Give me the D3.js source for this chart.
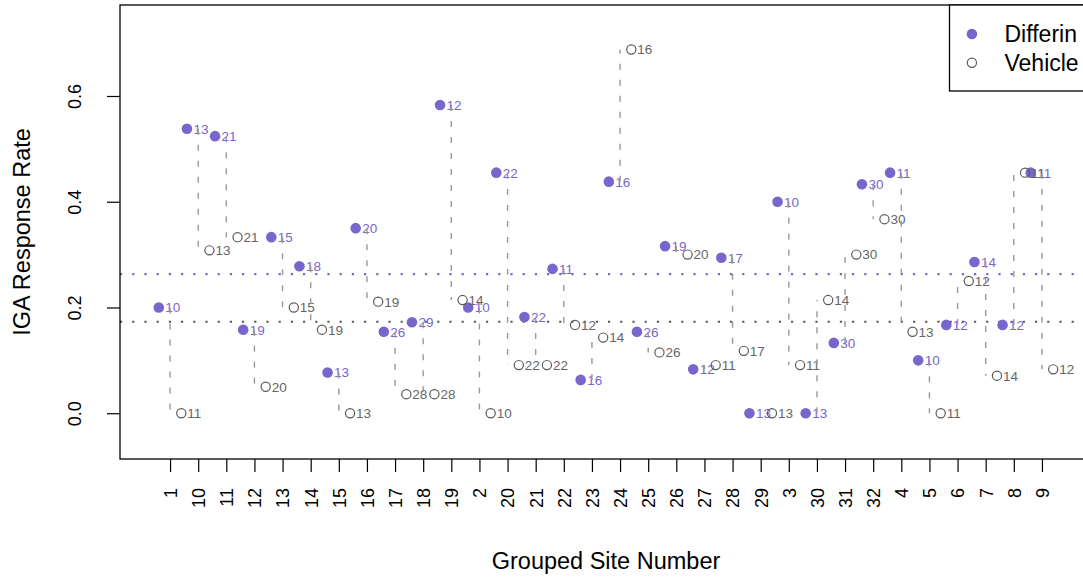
<!DOCTYPE html>
<html>
<head>
<meta charset="utf-8">
<script src="https://cdn.jsdelivr.net/npm/d3@7"></script>
<style>
  html, body { margin: 0; padding: 0; background: #fff; overflow: hidden; }
  text { font-family: "Liberation Sans", Arial, Helvetica, sans-serif; }
</style>
</head>
<body>
<svg id="chart" width="1083" height="577"></svg>
<script>
// Grouped sites, in the order they appear along the x axis
const sites = ["1","10","11","12","13","14","15","16","17","18","19","2","20","21","22","23",
               "24","25","26","27","28","29","3","30","31","32","4","5","6","7","8","9"];

// IGA response rate and number of subjects per site, Differin arm
const differinRate = [0.200, 0.538, 0.524, 0.158, 0.333, 0.278, 0.077, 0.350, 0.154, 0.172, 0.583,
                      0.200, 0.455, 0.182, 0.273, 0.063, 0.438, 0.154, 0.316, 0.083, 0.294, 0.000,
                      0.400, 0.000, 0.133, 0.433, 0.455, 0.100, 0.167, 0.286, 0.167, 0.455];
const differinN = [10, 13, 21, 19, 15, 18, 13, 20, 26, 29, 12, 10, 22, 22, 11, 16,
                   16, 26, 19, 12, 17, 13, 10, 13, 30, 30, 11, 10, 12, 14, 12, 11];

// IGA response rate and number of subjects per site, Vehicle arm
const vehicleRate = [0.000, 0.308, 0.333, 0.050, 0.200, 0.158, 0.000, 0.211, 0.036, 0.036, 0.214,
                     0.000, 0.091, 0.091, 0.167, 0.143, 0.688, 0.115, 0.300, 0.091, 0.118, 0.000,
                     0.091, 0.214, 0.300, 0.367, 0.154, 0.000, 0.250, 0.071, 0.455, 0.083];
const vehicleN = [11, 13, 21, 20, 15, 19, 13, 19, 28, 28, 14, 10, 22, 22, 12, 14,
                  16, 26, 20, 11, 17, 13, 11, 14, 30, 30, 13, 11, 12, 14, 11, 12];

// Overall response rate in each arm
const overallDifferin = 0.263;
const overallVehicle = 0.173;

const yTicks = [0, 0.2, 0.4, 0.6];
const legendLabels = ["Differin", "Vehicle"];

const purple = "#7866CC";
const grey = "#5a5a5a";
const dashGrey = "#999999";

const svg = d3.select("#chart");
const plot = { left: 120, right: 1092, top: 5, bottom: 459 };

// position of each site is 1..n; arms are offset to either side of it
const x = d3.scaleLinear().domain([-0.78, sites.length + 1.78]).range([plot.left, plot.right]);
const y = d3.scaleLinear().domain([-0.0866, 0.7721]).range([plot.bottom, plot.top]);
const armOffset = 0.4;

const rows = sites.map((s, i) => ({
  site: s, pos: i + 1,
  dRate: differinRate[i], dN: differinN[i],
  vRate: vehicleRate[i], vN: vehicleN[i]
}));

svg.append("defs").append("clipPath").attr("id", "plotClip")
  .append("rect").attr("x", plot.left).attr("y", plot.top)
  .attr("width", plot.right - plot.left).attr("height", plot.bottom - plot.top);

const g = svg.append("g").attr("clip-path", "url(#plotClip)");

// overall rate reference lines
g.selectAll("line.ref").data([[overallDifferin, purple], [overallVehicle, grey]]).enter()
  .append("line").attr("class", "ref")
  .attr("x1", plot.left).attr("x2", plot.right)
  .attr("y1", d => y(d[0])).attr("y2", d => y(d[0]))
  .attr("stroke", d => d[1]).attr("stroke-width", 2.2)
  .attr("stroke-dasharray", "2.2,10").attr("stroke-linecap", "butt");

// Differin points and their n labels
g.selectAll("circle.d").data(rows).enter().append("circle").attr("class", "d")
  .attr("cx", d => x(d.pos - armOffset)).attr("cy", d => y(d.dRate))
  .attr("r", 5.3).attr("fill", purple);
g.selectAll("text.d").data(rows).enter().append("text").attr("class", "d")
  .attr("x", d => x(d.pos - armOffset) + 6.5).attr("y", d => y(d.dRate))
  .attr("dy", "0.36em").attr("font-size", 13.5).attr("fill", purple)
  .text(d => d.dN);

// Vehicle points and their n labels
g.selectAll("circle.v").data(rows).enter().append("circle").attr("class", "v")
  .attr("cx", d => x(d.pos + armOffset)).attr("cy", d => y(d.vRate))
  .attr("r", 4.6).attr("fill", "none").attr("stroke", grey).attr("stroke-width", 1.2);
g.selectAll("text.v").data(rows).enter().append("text").attr("class", "v")
  .attr("x", d => x(d.pos + armOffset) + 6).attr("y", d => y(d.vRate))
  .attr("dy", "0.36em").attr("font-size", 13.5).attr("fill", "#666")
  .text(d => d.vN);

// dashed connector between the two arms at each site
g.selectAll("line.conn").data(rows).enter().append("line").attr("class", "conn")
  .attr("x1", d => x(d.pos)).attr("x2", d => x(d.pos))
  .attr("y1", d => y(d.dRate)).attr("y2", d => y(d.vRate))
  .attr("stroke", dashGrey).attr("stroke-width", 1.4)
  .attr("stroke-dasharray", "6,10");

// axes
const yAxis = svg.append("g").attr("transform", `translate(${plot.left},0)`)
  .call(d3.axisLeft(y).tickValues(yTicks).tickFormat(d3.format(".1f")).tickSize(13).tickSizeOuter(0));
yAxis.select(".domain").remove();
yAxis.selectAll(".tick line").attr("stroke", "#000").attr("stroke-width", 1.2);
yAxis.selectAll(".tick text")
  .attr("x", 0).attr("y", 0).attr("dy", 0)
  .attr("text-anchor", "middle").attr("transform", "translate(-39,0) rotate(-90)")
  .attr("font-size", 18).attr("fill", "#000").attr("font-family", null);

const xAxis = svg.append("g").attr("transform", `translate(0,${plot.bottom})`)
  .call(d3.axisBottom(x).tickValues(rows.map(d => d.pos)).tickFormat((d, i) => sites[i])
        .tickSize(13).tickSizeOuter(0));
xAxis.select(".domain").remove();
xAxis.selectAll(".tick line").attr("stroke", "#000").attr("stroke-width", 1.2);
xAxis.selectAll(".tick text")
  .attr("x", 0).attr("y", 0).attr("dy", "0.35em")
  .attr("text-anchor", "end").attr("transform", "translate(0,29) rotate(-90)")
  .attr("font-size", 18).attr("fill", "#000").attr("font-family", null);

// plot frame
svg.append("rect").attr("x", plot.left).attr("y", plot.top)
  .attr("width", plot.right - plot.left).attr("height", plot.bottom - plot.top)
  .attr("fill", "none").attr("stroke", "#000").attr("stroke-width", 1.3);

// axis titles
svg.append("text").attr("transform", `translate(30,${(plot.top + plot.bottom) / 2}) rotate(-90)`)
  .attr("text-anchor", "middle").attr("font-size", 23.5).text("IGA Response Rate");
svg.append("text").attr("x", (plot.left + plot.right) / 2).attr("y", 569)
  .attr("text-anchor", "middle").attr("font-size", 23.5).text("Grouped Site Number");

// legend, anchored in the top-right corner of the plot
const legend = svg.append("g").attr("transform", `translate(${plot.right - 142.5},${plot.top})`);
legend.append("rect").attr("x", 0).attr("y", 0).attr("width", 142.5).attr("height", 86)
  .attr("fill", "#fff").attr("stroke", "#000").attr("stroke-width", 1.3);
legend.append("circle").attr("cx", 22.4).attr("cy", 29).attr("r", 5.3).attr("fill", purple);
legend.append("circle").attr("cx", 22.4).attr("cy", 57.7).attr("r", 4.6)
  .attr("fill", "none").attr("stroke", grey).attr("stroke-width", 1.2);
legend.selectAll("text").data(legendLabels).enter().append("text")
  .attr("x", 55).attr("y", (d, i) => 29 + i * 28.7).attr("dy", "0.36em")
  .attr("font-size", 23).attr("fill", "#000").text(d => d);
</script>
</body>
</html>
